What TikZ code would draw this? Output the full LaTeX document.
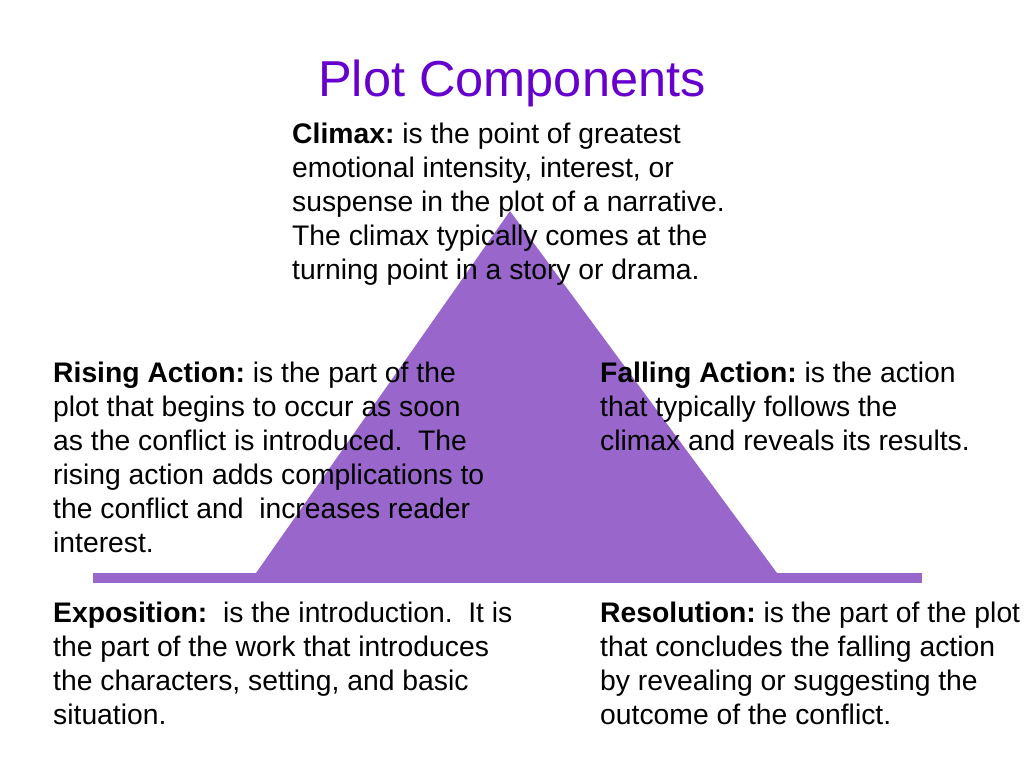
\documentclass[tikz,border=0pt]{standalone}
\usepackage{fontspec}
\setmainfont{Liberation Sans}
\definecolor{tri}{RGB}{153,102,204}
\definecolor{titlec}{RGB}{102,0,204}
\tikzset{
  bodytext/.style={anchor=north west, inner sep=0pt, align=left, text=black,
    font=\fontsize{28.3}{34}\selectfont},
  shapefill/.style={fill=tri, draw=none}
}
\begin{document}
\begin{tikzpicture}[x=1pt,y=-1pt]
\useasboundingbox (0,0) rectangle (1024,768);
\frenchspacing
% pyramid
\fill[shapefill] (256,573) -- (510,211) -- (777,573) -- cycle;
\fill[shapefill] (93,573) rectangle (922,583);
% title
\node[anchor=base, inner sep=0pt, text=titlec, font=\fontsize{50.5}{60}\selectfont] (title) at (512,96) {Plot Components};
% texts
\node[bodytext] (climax) at (292,119) {\rule{0pt}{24pt}\textbf{Climax:} is the point of greatest\\emotional intensity, interest, or\\suspense in the plot of a narrative.\\The climax typically comes at the\\turning point in a story or drama.};
\node[bodytext] (rising) at (53,358) {\rule{0pt}{24pt}\textbf{Rising Action:} is the part of the\\plot that begins to occur as soon\\as the conflict is introduced.\ \ The\\rising action adds complications to\\the conflict and\ \ increases reader\\interest.};
\node[bodytext] (falling) at (600,358) {\rule{0pt}{24pt}\textbf{Falling Action:} is the action\\that typically follows the\\climax and reveals its results.};
\node[bodytext] (expo) at (53,598) {\rule{0pt}{24pt}\textbf{Exposition:}\ \ is the introduction.\ \ It is\\the part of the work that introduces\\the characters, setting, and basic\\situation.};
\node[bodytext] (resol) at (600,598) {\rule{0pt}{24pt}\textbf{Resolution:} is the part of the plot\\that concludes the falling action\\by revealing or suggesting the\\outcome of the conflict.};
\end{tikzpicture}
\end{document}
